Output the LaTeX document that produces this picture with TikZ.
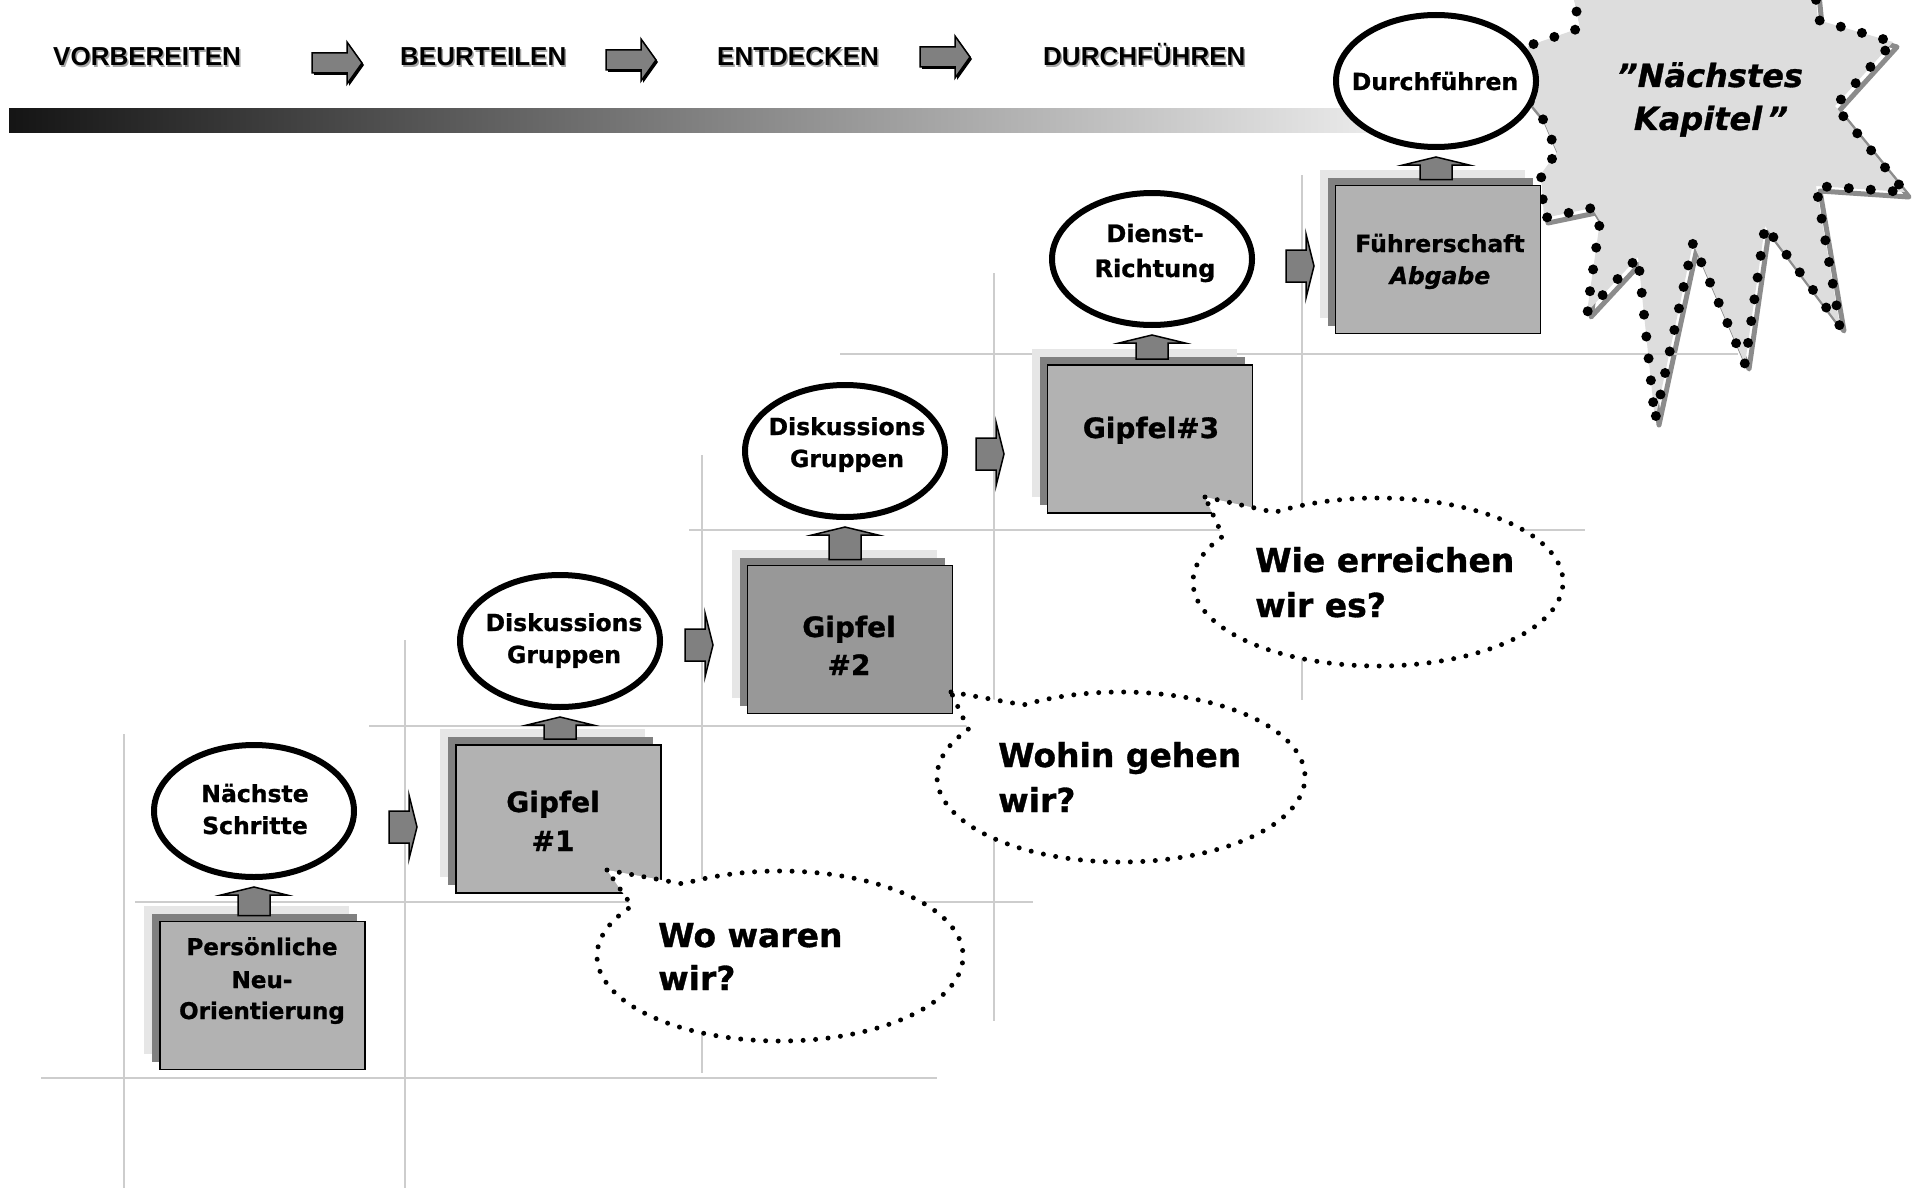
\documentclass[tikz,border=0pt]{standalone}
\usepackage{fontspec}
\usetikzlibrary{calc,shapes.geometric}
\newfontfamily\dvs{DejaVu Sans}[BoldFeatures={FakeBold=1}, BoldItalicFeatures={FakeBold=1}]
\newfontfamily\lss{Liberation Sans}
\definecolor{gridc}{HTML}{CDCDCD}
\definecolor{boxc}{HTML}{B2B2B2}
\definecolor{boxd}{HTML}{989898}
\definecolor{shd}{HTML}{808080}
\definecolor{shl}{HTML}{E6E6E6}
\definecolor{arrc}{HTML}{808080}
\definecolor{starc}{HTML}{DDDDDD}
\definecolor{starsh}{HTML}{8C8C8C}
\tikzset{
 gridline/.style={draw=gridc, line width=2.5pt},
 mainbox/.style={rectangle, draw=black, line width=1.8pt, fill=boxc, minimum width=205pt, minimum height=148pt, inner sep=0pt, outer sep=0pt},
 oval/.style={ellipse, draw=black, line width=6pt, fill=white, minimum width=200pt, minimum height=132pt, inner sep=0pt},
 blockarrow/.style={draw=black, line width=1.5pt, fill=arrc, line join=miter},
 bubble/.style={draw=black, fill=white, line width=5pt, dash pattern=on 0pt off 12.5pt, line cap=round},
 lbl/.style={font=\dvs\bfseries\fontsize{23.5}{28}\selectfont, anchor=base, inner sep=0pt},
 big/.style={font=\dvs\bfseries\fontsize{28}{34}\selectfont, anchor=base, inner sep=0pt},
 ask/.style={font=\dvs\bfseries\fontsize{33}{40}\selectfont, anchor=base west, inner sep=0pt},
 headlbl/.style={font=\lss\bfseries\fontsize{26}{30}\selectfont, anchor=base west, inner sep=0pt},
}
% box with two offset shadows
\newcommand\gbox[4]{%
  \fill[shl] (#2-102.5-16,#3-74-16) rectangle (#2+102.5-16,#3+74-16);
  \fill[shd] (#2-102.5-8,#3-74-8) rectangle (#2+102.5-8,#3+74-8);
  \node[mainbox, fill=#4] (#1) at (#2,#3) {};}
% up block arrow from box #2 to ellipse #1
\newcommand\uparr[2]{%
  \draw[blockarrow] let \p1=(#1.south), \p2=(#2.north) in
   (\x1-16pt,\y2+6pt) -- (\x1-16pt,\y1-15pt) -- (\x1-33pt,\y1-15pt) -- (\x1,\y1-7pt)
   -- (\x1+33pt,\y1-15pt) -- (\x1+16pt,\y1-15pt) -- (\x1+16pt,\y2+6pt) -- cycle;}
% right block arrow at coordinate #1
\newcommand\rarr[1]{%
  \draw[blockarrow] ($(#1)+(0,-16)$) -- ++(20,0) -- ++(0,-16) -- ++(8,32) -- ++(-8,32)
   -- ++(0,-16) -- ++(-20,0) -- cycle;}
% top block arrow at coordinate #1
\newcommand\tarr[1]{%
  \fill[black] ($(#1)+(2,-8)$) -- ++(35,0) -- ++(0,-11) -- ++(15,21) -- ++(-15,21)
   -- ++(0,-11) -- ++(-35,0) -- cycle;
  \draw[blockarrow] ($(#1)+(0,-10)$) -- ++(35,0) -- ++(0,-11) -- ++(15,21) -- ++(-15,21)
   -- ++(0,-11) -- ++(-35,0) -- cycle;}
% speech bubble: tip, centre, radii, angles
\newcommand\bub[8]{%
  \draw[bubble] (#1,#2) -- ({#3+#5*cos(#7)},{#4+#6*sin(#7)})
    arc[start angle=#7, end angle=#8+360, x radius=#5, y radius=#6] -- cycle;}
\def\starpath{(1572,-10) -- (1580,28) -- (1528,46) -- (1520,90) -- (1542,117) -- (1557,152)
 -- (1541,174) -- (1544,218) -- (1592,208) -- (1600,221) -- (1587,312) -- (1638,257)
 -- (1655,420) -- (1693,243) -- (1745,364) -- (1765,226) -- (1840,326) -- (1816,186)
 -- (1905,192) -- (1835,106) -- (1893,42) -- (1818,20) -- (1815,-10)}
\begin{document}
\begin{tikzpicture}[x=1pt,y=-1pt]
\useasboundingbox (0,0) rectangle (1929,1188);
\fill[white] (0,0) rectangle (1929,1188);

% grid of the staircase
\draw[gridline] (41,1078) -- (937,1078);
\draw[gridline] (135,902) -- (1033,902);
\draw[gridline] (369,726) -- (1267,726);
\draw[gridline] (689,530) -- (1585,530);
\draw[gridline] (124,734) -- (124,1188);
\draw[gridline] (405,640) -- (405,1188);
\draw[gridline] (702,455) -- (702,1073);
\draw[gridline] (994,273) -- (994,1021);
\draw[gridline] (1302,175) -- (1302,700);

% gradient bar
\shade[left color=black!92, middle color=black!36, right color=black!4] (9,109) rectangle (1440,133);

% star
\draw[starsh, line width=5pt, line join=round, shift={(4,5)}] \starpath;
\fill[starc] \starpath -- cycle;
\draw[gridline] (840,354) -- (1738,354);
\draw[black, line width=10pt, line cap=round, dash pattern=on 0pt off 22pt] \starpath;

% top row
\node[headlbl, text=black!35] (h1s) at (54.5,67.5) {VORBEREITEN};
\node[headlbl] (h1) at (53,66) {VORBEREITEN};
\node[headlbl, text=black!35] (h2s) at (401.5,67.5) {BEURTEILEN};
\node[headlbl] (h2) at (400,66) {BEURTEILEN};
\node[headlbl, text=black!35] (h3s) at (718.5,67.5) {ENTDECKEN};
\node[headlbl] (h3) at (717,66) {ENTDECKEN};
\node[headlbl, text=black!35] (h4s) at (1044.5,67.5) {DURCHFÜHREN};
\node[headlbl] (h4) at (1043,66) {DURCHFÜHREN};
\coordinate (t1) at (312,63);
\coordinate (t2) at (606,60);
\coordinate (t3) at (920,57);
\tarr{t1}\tarr{t2}\tarr{t3}

% boxes
\gbox{b0}{262.5}{995.5}{boxc}
\gbox{b1}{558.5}{819}{boxc}
\gbox{b2}{850}{639.5}{boxd}
\gbox{b3}{1150}{439}{boxc}
\gbox{b4}{1438}{259.5}{boxc}

% ellipses
\node[oval] (e0) at (254,811) {};
\node[oval] (e1) at (560,641) {};
\node[oval] (e2) at (845,451) {};
\node[oval] (e3) at (1152,259) {};
\node[oval] (e4) at (1436,81) {};

% up arrows
\uparr{e0}{b0}
\uparr{e1}{b1}
\uparr{e2}{b2}
\uparr{e3}{b3}
\uparr{e4}{b4}

% right arrows
\coordinate (r1) at (389,827);
\coordinate (r2) at (685,645);
\coordinate (r3) at (976,454);
\coordinate (r4) at (1286,266);
\rarr{r1}\rarr{r2}\rarr{r3}\rarr{r4}

% speech bubbles
\bub{607}{870}{780}{956}{183}{85}{238}{216}
\bub{951}{692}{1121}{777}{184}{85}{238}{214}
\bub{1205}{497}{1378}{582}{185}{84}{236}{213}

% texts
\node[lbl] (e0a) at (255,802) {Nächste};
\node[lbl] (e0b) at (255,834) {Schritte};
\node[lbl] (e1a) at (564,631) {Diskussions};
\node[lbl] (e1b) at (564,663) {Gruppen};
\node[lbl] (e2a) at (847,435) {Diskussions};
\node[lbl] (e2b) at (847,467) {Gruppen};
\node[lbl, font=\dvs\bfseries\fontsize{24}{28}\selectfont] (e3a) at (1155,242) {Dienst-};
\node[lbl, font=\dvs\bfseries\fontsize{24}{28}\selectfont] (e3b) at (1155,277) {Richtung};
\node[lbl] (e4a) at (1435,90) {Durchführen};
\node[lbl, font=\dvs\bfseries\fontsize{23}{28}\selectfont] (b0a) at (262,955) {Persönliche};
\node[lbl, font=\dvs\bfseries\fontsize{23}{28}\selectfont] (b0b) at (262,988) {Neu-};
\node[lbl, font=\dvs\bfseries\fontsize{23}{28}\selectfont] (b0c) at (262,1019) {Orientierung};
\node[big] (b1a) at (553,812) {Gipfel};
\node[big] (b1b) at (553,851) {\#1};
\node[big] (b2a) at (849,637) {Gipfel};
\node[big] (b2b) at (849,675) {\#2};
\node[big] (b3a) at (1151,438) {Gipfel\#3};
\node[lbl] (b4a) at (1440,252) {Führerschaft};
\node[lbl, font=\dvs\bfseries\itshape\fontsize{23.5}{28}\selectfont] (b4b) at (1440,284) {Abgabe};
\node[lbl, font=\dvs\bfseries\itshape\fontsize{32}{38}\selectfont] (s1) at (1710,87) {”Nächstes};
\node[lbl, font=\dvs\bfseries\itshape\fontsize{32}{38}\selectfont] (s2) at (1711,130) {Kapitel\,”};
\node[ask] (q1a) at (658,947) {Wo waren};
\node[ask] (q1b) at (658,990) {wir?};
\node[ask] (q2a) at (998,767) {Wohin gehen};
\node[ask] (q2b) at (998,812) {wir?};
\node[ask] (q3a) at (1255,572) {Wie erreichen};
\node[ask] (q3b) at (1255,617) {wir es?};
\end{tikzpicture}
\end{document}
